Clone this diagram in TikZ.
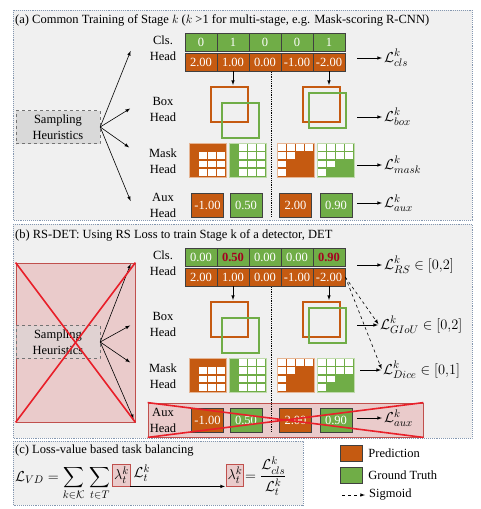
\documentclass[tikz,border=0pt]{standalone}
\usepackage{amsmath}
\usepackage{fontspec}
\setmainfont{Liberation Serif}
\usetikzlibrary{arrows, positioning}

\definecolor{pred}{HTML}{C55A11}
\definecolor{gt}{HTML}{70AD47}
\definecolor{panelbg}{HTML}{F0F0F0}
\definecolor{panelline}{HTML}{8497B0}
\definecolor{crossfill}{HTML}{EACBCB}
\definecolor{crossedge}{HTML}{C0504D}
\definecolor{crossline}{HTML}{E8202A}
\definecolor{rsred}{HTML}{A50021}

\newcommand{\rsval}[1]{\textcolor{rsred}{\textbf{#1}}}
\newcommand{\maskgrid}[5]{%
  \fill[#3] (#1,#2) rectangle ++(37,34);
  \foreach \c/\r in {#5}
    \fill[white] ({#1+1.2+9*(\c-1)},{#2+1.2+8.25*(\r-1)}) rectangle ++(7.4,6.7);
  \draw[#4, line width=1pt] (#1,#2) rectangle ++(37,34);
}

\begin{document}
\begin{tikzpicture}[x=1pt, y=-1pt, shorten >=1pt, font=\fontsize{12.5}{16}\selectfont,
  panel/.style={draw=panelline, fill=panelbg, densely dotted, line width=0.9pt},
  title/.style={anchor=west, inner sep=0pt},
  head/.style={align=center, inner sep=0pt},
  cell/.style={draw=black!75, line width=0.5pt, minimum width=32pt, minimum height=18pt, inner sep=0pt, text=white},
  gtcell/.style={cell, fill=gt},
  predcell/.style={cell, fill=pred},
  auxcell/.style={cell, minimum width=32pt, minimum height=24pt},
  predbox/.style={draw=pred, line width=2pt, minimum width=37pt, minimum height=35pt, inner sep=0pt},
  gtbox/.style={draw=gt, line width=2pt, minimum width=37pt, minimum height=35pt, inner sep=0pt},
  sampler/.style={draw=black!55, dashed, fill=black!15, align=center, minimum width=84pt, minimum height=33pt, inner sep=0pt},
  crossbox/.style={draw=crossedge, fill=crossfill, line width=0.8pt, inner sep=0pt},
  xline/.style={draw=crossline, line width=1.6pt, shorten >=0pt},
  loss/.style={inner sep=1pt, font=\fontsize{15.5}{18}\selectfont},
  lambox/.style={draw=crossedge, fill=crossfill, line width=0.8pt, inner sep=1.2pt, minimum height=22pt, font=\fontsize{15.5}{18}\selectfont},
  arr/.style={-latex, line width=0.6pt},
  sig/.style={arr, dashed},
  sep/.style={densely dotted, line width=0.8pt}]

\useasboundingbox (0,0) rectangle (481,509);
\draw[panel] (13,10) rectangle (472,220);
\draw[panel] (13,224) rectangle (472,438);
\draw[panel] (13,441) rectangle (303,505);

\node[title] (ta) at (15,20) {(a) Common Training of Stage $k$ ($k$ >1 for multi-stage, e.g. Mask-scoring R-CNN)};

\node[sampler] (sa) at (58,127) {Sampling\\Heuristics};
\coordinate (sa1) at (131,50);
\coordinate (sa2) at (131,108);
\coordinate (sa3) at (130,148);
\coordinate (sa4) at (131,202);
\draw[arr] (sa.east) -- (sa1);
\draw[arr] (sa.east) -- (sa2);
\draw[arr] (sa.east) -- (sa3);
\draw[arr] (sa.east) -- (sa4);

\node[head] (hca) at (163,48) {Cls.\\Head};
\node[head] (hba) at (163,109) {Box\\Head};
\node[head] (hma) at (163,161) {Mask\\Head};
\node[head] (hxa) at (163,205) {Aux\\Head};

\foreach \v [count=\i] in {0,1,0,0,1}
  \node[gtcell] (ga\i) at (169+32*\i,42) {\v};
\foreach \v [count=\i] in {2.00,1.00,0.00,-1.00,-2.00}
  \node[predcell] (pa\i) at (169+32*\i,62) {\v};

\draw[sep] (271,72) -- (271,218);

\node[predbox] (oba1) at (229.5,104.5) {};
\node[gtbox] (gba1) at (240.5,120.5) {};
\node[predbox] (oba2) at (321.5,104.5) {};
\node[gtbox] (gba2) at (327.5,110) {};
\draw[arr] (pa2.south) -- (pa2.south |- oba1.north);
\draw[arr] (pa5.south) -- (pa5.south |- oba2.north);

\maskgrid{189}{143}{pred}{pred!45!white}{2/2,3/2,4/2,2/3,3/3,4/3,2/4,3/4,4/4}
\maskgrid{229}{143}{gt}{gt!45!white}{2/1,3/1,4/1,2/2,3/2,4/2,2/3,3/3,4/3,2/4,3/4,4/4}
\maskgrid{277}{143}{pred}{pred!45!white}{1/1,2/1,3/1,4/1,1/2,2/2,1/3,1/4}
\maskgrid{317}{143}{gt}{gt!45!white}{1/1,2/1,3/1,4/1,1/2,2/2,3/2,4/2,1/3,2/3,1/4}

\node[auxcell, fill=pred] (xa1) at (207.5,205) {-1.00};
\node[auxcell, fill=gt] (xa2) at (246,205) {0.50};
\node[auxcell, fill=pred] (xa3) at (295.5,205) {2.00};
\node[auxcell, fill=gt] (xa4) at (336,205) {0.90};

\coordinate (lca) at (357,58);
\coordinate (lba) at (357,117);
\coordinate (lma) at (357,165);
\coordinate (lxa) at (357,203);
\node[loss, right=26pt of lca] (lclsa) {$\mathcal{L}^k_{cls}$};
\node[loss, right=26pt of lba] (lboxa) {$\mathcal{L}^k_{box}$};
\node[loss, right=26pt of lma] (lmaska) {$\mathcal{L}^k_{mask}$};
\node[loss, right=26pt of lxa] (lauxa) {$\mathcal{L}^k_{aux}$};
\draw[arr] (lca) -- (lclsa);
\draw[arr] (lba) -- (lboxa);
\draw[arr] (lma) -- (lmaska);
\draw[arr] (lxa) -- (lauxa);

\node[title] (tb) at (15,235) {(b) RS-DET: Using RS Loss to train Stage k of a detector, DET};

\node[crossbox, minimum width=119pt, minimum height=159pt] (xl) at (75.5,342.5) {};
\node[sampler, fill opacity=0.55, text opacity=1] (sb) at (58,342) {Sampling\\Heuristics};
\coordinate (sb1) at (131,263);
\coordinate (sb2) at (131,325);
\coordinate (sb3) at (131,363);
\coordinate (sb4) at (134,420);
\draw[arr] (sb.east) -- (sb1);
\draw[arr] (sb.east) -- (sb2);
\draw[arr] (sb.east) -- (sb3);
\draw[arr] (sb.east) -- (sb4);
\draw[xline] (xl.north west) -- (xl.south east);
\draw[xline] (xl.north east) -- (xl.south west);

\node[crossbox, minimum width=275pt, minimum height=34pt] (xr) at (285.5,420) {};

\node[head] (hcb) at (163,263) {Cls.\\Head};
\node[head] (hbb) at (163,324) {Box\\Head};
\node[head] (hmb) at (163,376) {Mask\\Head};
\node[head] (hxb) at (163,420) {Aux\\Head};

\foreach \v [count=\i] in {0.00,\rsval{0.50},0.00,0.00,\rsval{0.90}}
  \node[gtcell] (gb\i) at (169+32*\i,257) {\v};
\foreach \v [count=\i] in {2.00,1.00,0.00,-1.00,-2.00}
  \node[predcell] (pb\i) at (169+32*\i,277) {\v};

\draw[sep] (271,287) -- (271,433);

\node[predbox] (obb1) at (229.5,319.5) {};
\node[gtbox] (gbb1) at (240.5,335.5) {};
\node[predbox] (obb2) at (321.5,319.5) {};
\node[gtbox] (gbb2) at (327.5,325) {};
\draw[arr] (pb2.south) -- (pb2.south |- obb1.north);
\draw[arr] (pb5.south) -- (pb5.south |- obb2.north);

\maskgrid{189}{358}{pred}{pred!45!white}{2/2,3/2,4/2,2/3,3/3,4/3,2/4,3/4,4/4}
\maskgrid{229}{358}{gt}{gt!45!white}{2/1,3/1,4/1,2/2,3/2,4/2,2/3,3/3,4/3,2/4,3/4,4/4}
\maskgrid{277}{358}{pred}{pred!45!white}{1/1,2/1,3/1,4/1,1/2,2/2,1/3,1/4}
\maskgrid{317}{358}{gt}{gt!45!white}{1/1,2/1,3/1,4/1,1/2,2/2,3/2,4/2,1/3,2/3,1/4}

\node[auxcell, fill=pred] (xb1) at (207.5,420) {-1.00};
\node[auxcell, fill=gt] (xb2) at (246,420) {0.50};
\node[auxcell, fill=pred] (xb3) at (295.5,420) {2.00};
\node[auxcell, fill=gt] (xb4) at (336,420) {0.90};

\coordinate (lcb) at (357,265);
\coordinate (lbb) at (357,325);
\coordinate (lmb) at (360,370);
\coordinate (lxb) at (357,418);
\node[loss, right=26pt of lcb] (lrs) {$\mathcal{L}^k_{RS}\in[0{,}2]$};
\node[loss, right=22pt of lbb] (lgiou) {$\mathcal{L}^k_{GIoU}\in[0{,}2]$};
\node[loss, right=22pt of lmb] (ldice) {$\mathcal{L}^k_{Dice}\in[0{,}1]$};
\node[loss, right=26pt of lxb] (lauxb) {$\mathcal{L}^k_{aux}$};
\draw[arr] (lcb) -- (lrs);
\draw[arr] (lbb) -- (lgiou);
\draw[arr] (lmb) -- (ldice);
\draw[arr] (lxb) -- (lauxb);
\draw[sig] (pb5.east) -- (lgiou.west);
\draw[sig] (pb5.east) -- (ldice.west);

\draw[xline] (xr.north west) -- (xr.south east);
\draw[xline] (xr.north east) -- (xr.south west);

\node[title] (tc) at (15,451) {(c) Loss-value based task balancing};
\node[anchor=base west, inner sep=0pt, font=\fontsize{15}{18}\selectfont] (vd) at (15,481) {$\displaystyle\mathcal{L}_{VD} = \sum_{k\in\mathcal{K}}\,\sum_{t\in T}$};
\node[lambox, right=2pt of vd.base east, yshift=6pt] (lam1) {$\lambda^k_t$};
\node[loss, anchor=west] (lt) at ([xshift=2pt, yshift=2pt]lam1.east) {$\mathcal{L}^k_t$};
\node[lambox] (lam2) at (235,475) {$\lambda^k_t$};
\node[loss, anchor=west] (frac) at (244,476) {$\displaystyle=\frac{\mathcal{L}^k_{cls}}{\mathcal{L}^k_t}$};
\draw[arr] (lam1.south east) -- (lam1.south east -| lam2.west);

\node[draw=black!75, fill=pred, minimum width=22pt, minimum height=16pt, inner sep=0pt] (legp) at (351,453) {};
\node[draw=black!75, fill=gt, minimum width=22pt, minimum height=16pt, inner sep=0pt] (legg) at (351,475) {};
\coordinate (legs) at (342,495);
\coordinate (lege) at (366,495);
\draw[sig] (legs) -- (lege);
\node[title, right=6pt of legp] (tp) {Prediction};
\node[title, right=6pt of legg] (tg) {Ground Truth};
\node[title, right=3pt of lege] (ts) {Sigmoid};
\end{tikzpicture}
\end{document}
